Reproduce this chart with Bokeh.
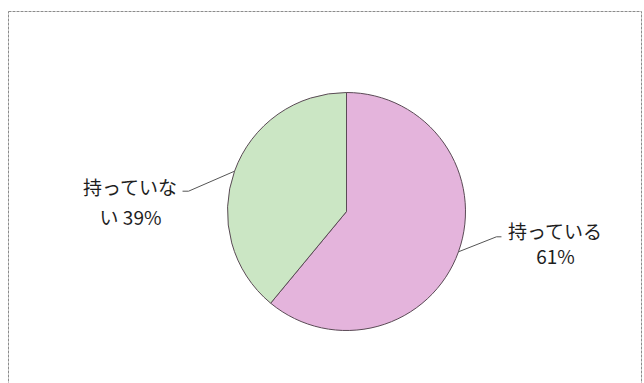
import numpy as np
from bokeh.plotting import figure
from bokeh.models import ColumnDataSource
from bokeh.core.properties import value
from bokeh.embed import file_html
from bokeh.resources import INLINE

# Share of respondents
categories = ["持っている", "持っていない"]
shares = [61, 39]
label_lines = [["持っている", "61%"], ["持っていな", "い 39%"]]
colors = ["#E4B4DC", "#CBE6C4"]

W, H = 644, 383
cx, cy, r = 346, H - 211, 119

p = figure(width=W, height=H, x_range=(0, W), y_range=(0, H),
           output_backend="svg", toolbar_location=None,
           min_border=0, outline_line_color=None)
p.axis.visible = False
p.grid.visible = False
p.background_fill_color = "white"
p.border_fill_color = "white"

# chart area frame
p.quad(left=[8], right=[641], top=[H - 11], bottom=[-10], fill_color=None,
       line_color="#8c8c8c", line_width=1, line_dash="3 1")

# slices run clockwise starting from 12 o'clock
vals = np.array(shares, dtype=float)
frac = vals / vals.sum()
ends = np.pi / 2 - 2 * np.pi * np.cumsum(frac)
starts = np.concatenate([[np.pi / 2], ends[:-1]])
src = ColumnDataSource(dict(cat=categories, start=starts, end=ends, color=colors))
p.wedge(x=cx, y=cy, radius=r, start_angle="start", end_angle="end",
        direction="clock", fill_color="color", line_color="#5a4a55",
        line_width=1, source=src)

# leader lines from the slice edge at each slice's mid-angle
mids = (starts + ends) / 2
font = value("Noto Sans CJK JP")
for i, m in enumerate(mids):
    ex, ey = cx + r * np.cos(m), cy + r * np.sin(m)
    side = 1 if np.cos(m) > 0 else -1
    if side > 0:
        kx, ky = ex + 38, ey + 15
        hx = kx + 5
        tx, ty = hx + 54, ky + 6
        gap = 25
    else:
        kx, ky = ex - 46, ey - 20
        hx = kx - 6
        tx, ty = hx - 52, ky + 5
        gap = 30
    p.line([ex, kx, hx], [ey, ky, ky], line_color="#555555", line_width=1)
    for j, txt in enumerate(label_lines[i]):
        p.text(x=[tx], y=[ty - j * gap], text=[txt], text_font=font,
               text_font_size="19px", text_color="#1e1e1e",
               text_align="center", text_baseline="middle")

open("out.html", "w").write(file_html(p, INLINE))
